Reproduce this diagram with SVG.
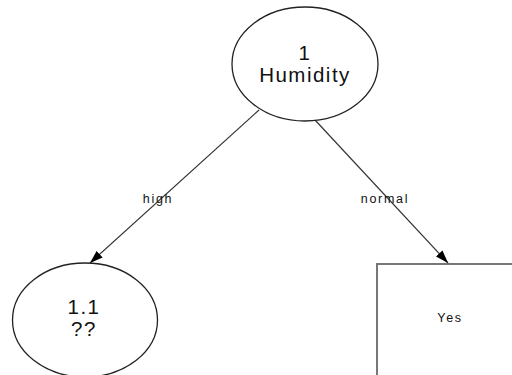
<svg xmlns="http://www.w3.org/2000/svg" width="512" height="375" viewBox="0 0 512 375">
<style>
.node{fill:#fff;stroke:#222;stroke-width:1.3}
.box{fill:#fff;stroke:#777;stroke-width:2}
.edge{stroke:#333;stroke-width:1.2;fill:none;marker-end:url(#arr)}
.big{font-family:"Liberation Sans",Arial,sans-serif;font-size:20.5px;letter-spacing:1.5px;fill:#111;text-anchor:middle}
.small{font-family:"Liberation Sans",Arial,sans-serif;font-size:12.5px;letter-spacing:1.7px;fill:#111;text-anchor:middle}
</style>
<defs>
<marker id="arr" viewBox="0 0 13 9" refX="13" refY="4.5" markerWidth="13" markerHeight="9" markerUnits="userSpaceOnUse" orient="auto">
<path d="M0,0 L13,4.5 L0,9 Z" fill="#000"/>
</marker>
</defs>
<rect width="512" height="375" fill="#fff"/>
<g id="connectors">
<line class="edge" x1="259" y1="110" x2="90" y2="263"/>
<line class="edge" x1="315" y1="120" x2="448" y2="263"/>
<text class="small" x="158" y="203">high</text>
<text class="small" x="385" y="203">normal</text>
</g>
<g id="node1">
<ellipse class="node" cx="305" cy="64" rx="73" ry="57"/>
<text class="big" x="305" y="60">1</text>
<text class="big" x="305" y="82">Humidity</text>
</g>
<g id="node11">
<ellipse class="node" cx="85" cy="320" rx="72.5" ry="57"/>
<text class="big" x="84" y="314">1.1</text>
<text class="big" x="84" y="336">??</text>
</g>
<g id="nodeYes">
<rect class="box" x="377" y="264" width="150" height="130"/>
<text class="small" x="450" y="322">Yes</text>
</g>
</svg>
